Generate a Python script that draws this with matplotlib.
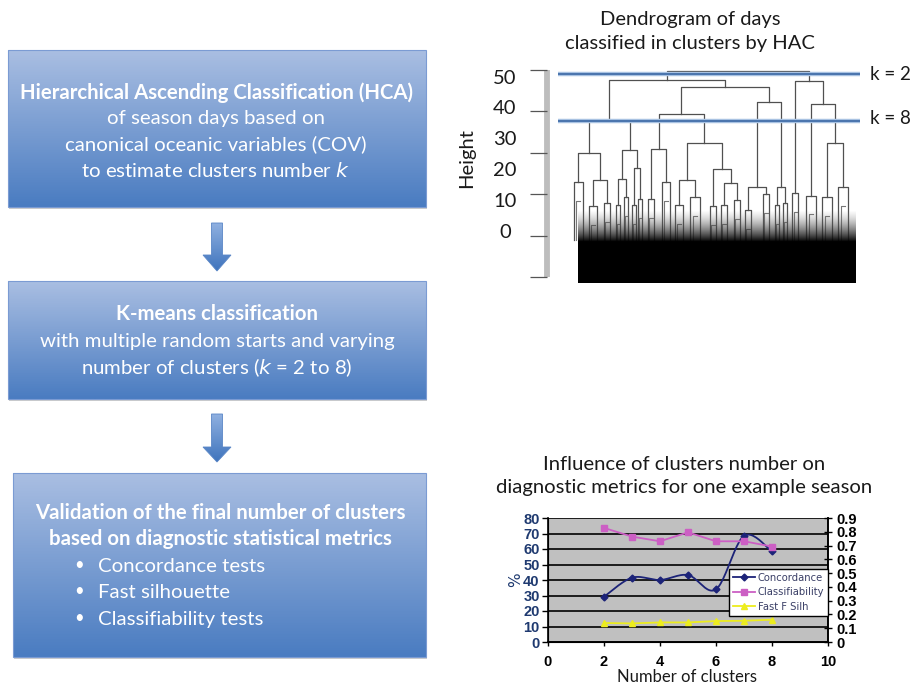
import numpy as np
import matplotlib.pyplot as plt
from matplotlib.patches import Rectangle, Polygon

W, H = 914, 689
FONT = "Lato"

# ---- flowchart text ----
box1_lines = ["Hierarchical Ascending Classification (HCA)",
              "of season days based on",
              "canonical oceanic variables (COV)",
              "to estimate clusters number $\\it{k}$"]
box2_lines = ["K-means classification",
              "with multiple random starts and varying",
              "number of clusters ($\\it{k}$ = 2 to 8)"]
box3_lines = ["Validation of the final number of clusters",
              "based on diagnostic statistical metrics"]
box3_bullets = ["Concordance tests", "Fast silhouette", "Classifiability tests"]

# ---- dendrogram (leaf order position in days, stub heights, merges) ----
leaf_pos = [2, 17, 31, 42, 50, 58, 64, 75, 90, 103, 119, 137, 148, 161,
            172, 190, 201, 209, 219, 235, 251, 267]
leaf_height = [22.9, 17.1, 17.9, 17.4, 19.3, 17.4, 18.8, 18.8, 22.9, 17.4, 19.3,
               17.1, 17.4, 18.6, 16.2, 20.0, 17.4, 17.9, 20.3, 19.6, 19.3, 21.7]
merge_left = [1, 0, 3, 5, 24, 23, 7, 9, 12, 11, 29, 28, 14, 16, 34, 33, 27, 20, 19, 18, 38]
merge_right = [2, 22, 4, 6, 25, 26, 8, 10, 13, 30, 31, 32, 15, 17, 35, 36, 37, 21, 39, 40, 41]
merge_height = [23.4, 30.0, 23.7, 26.3, 30.7, 37.7, 30.9, 23.4, 22.7, 26.1, 32.4,
                39.4, 21.7, 21.7, 42.3, 45.9, 47.6, 32.4, 41.8, 47.3, 49.8]
n_days = 280
cut_k2 = 49.0
cut_k8 = 37.7
height_ticks = [0, 10, 20, 30, 40, 50]
height_labels = ["50", "40", "30", "20", "10", "0"]

# ---- diagnostic metrics ----
n_clusters = [2, 3, 4, 5, 6, 7, 8]
concordance = [29.2, 41.5, 40.0, 43.2, 34.0, 68.5, 58.4]
classifiability = [0.828, 0.765, 0.731, 0.796, 0.731, 0.731, 0.693]
fast_silh = [0.138, 0.135, 0.142, 0.142, 0.152, 0.154, 0.162]


def px_axes(fig, x0, y0, x1, y1):
    return fig.add_axes([x0 / W, 1 - y1 / H, (x1 - x0) / W, (y1 - y0) / H])


def catmull_rom(xs, ys, steps=24):
    pts = np.column_stack([xs, ys]).astype(float)
    p = np.vstack([pts[0], pts, pts[-1]])
    t = np.linspace(0, 1, steps)[:, None]
    segs = []
    for i in range(1, len(p) - 2):
        p0, p1, p2, p3 = p[i - 1], p[i], p[i + 1], p[i + 2]
        segs.append(0.5 * (2 * p1 + (-p0 + p2) * t
                           + (2 * p0 - 5 * p1 + 4 * p2 - p3) * t ** 2
                           + (-p0 + 3 * p1 - 3 * p2 + p3) * t ** 3))
    seg = np.vstack(segs)
    return seg[:, 0], seg[:, 1]


def gradient(top, bottom, n=64):
    top = np.array(plt.matplotlib.colors.to_rgb(top))
    bottom = np.array(plt.matplotlib.colors.to_rgb(bottom))
    f = np.linspace(0, 1, n)[:, None]
    return (top + (bottom - top) * f)[:, None, :]


fig = plt.figure(figsize=(W / 100, H / 100), dpi=100)
bg = fig.add_axes([0, 0, 1, 1])
bg.set_axis_off()


def draw_box(x0, y0, x1, y1):
    bg.add_patch(Rectangle((x0 + 1, y0 + 2), x1 - x0, y1 - y0,
                           facecolor="#9a9a9a", alpha=0.5, lw=0, zorder=1))
    bg.imshow(gradient("#a9bee2", "#4a7cc1"), extent=(x0, x1, y1, y0),
              aspect="auto", origin="upper", zorder=2)
    bg.add_patch(Rectangle((x0, y0), x1 - x0, y1 - y0, fill=False,
                           edgecolor="#7b9bd3", lw=0.8, zorder=3))


def draw_arrow(cx, y_top, y_head, y_tip):
    pts = [(cx - 5.5, y_top), (cx + 5.5, y_top), (cx + 5.5, y_head),
           (cx + 14, y_head), (cx, y_tip), (cx - 14, y_head), (cx - 5.5, y_head)]
    poly = Polygon(pts, closed=True, facecolor="none", edgecolor="#5a86c6",
                   lw=0.6, zorder=3)
    bg.add_patch(poly)
    im = bg.imshow(gradient("#8fb0e0", "#3f74bd"), extent=(cx - 14, cx + 14, y_tip, y_top),
                   aspect="auto", origin="upper", zorder=2)
    im.set_clip_path(poly)


draw_box(8, 50, 426, 207)
draw_box(8, 281, 426, 399)
draw_box(13, 473, 426, 657)
draw_arrow(217, 223, 255, 271)
draw_arrow(217, 414, 447, 462)

txt = dict(color="white", family=FONT, fontsize=14.7, ha="center", va="center", zorder=5)
for i, line in enumerate(box1_lines):
    bg.text(216, 93 + i * 25.7, line, fontweight="bold" if i == 0 else "normal", **txt)
for i, line in enumerate(box2_lines):
    bg.text(217, 314 + i * 27, line, fontweight="bold" if i == 0 else "normal", **txt)
for i, line in enumerate(box3_lines):
    bg.text(220, 513 + i * 26, line, fontweight="bold", **txt)
for i, line in enumerate(box3_bullets):
    bg.text(79, 565 + i * 26.5, "\u2022", **{**txt, "fontsize": 12})
    bg.text(98, 566 + i * 26.5, line, **{**txt, "ha": "left"})

# dendrogram headings and axis labels
dark = "#1a1a1a"
bg.text(690, 20, "Dendrogram of days", family=FONT, fontsize=14.5, color=dark,
        ha="center", va="center")
bg.text(690, 43, "classified in clusters by HAC", family=FONT, fontsize=14.5,
        color=dark, ha="center", va="center")
for i, lab in enumerate(height_labels):
    bg.text(505, 78 + i * 30.8, lab, family=FONT, fontsize=14.5, color=dark,
            ha="center", va="center")
bg.text(467, 158, "Height", family=FONT, fontsize=14.5, color=dark, rotation=90,
        ha="center", va="center")
bg.text(870, 74, "k = 2", family=FONT, fontsize=13.5, color=dark, ha="left", va="center")
bg.text(870, 118, "k = 8", family=FONT, fontsize=13.5, color=dark, ha="left", va="center")

# metrics chart headings
bg.text(684, 465, "Influence of clusters number on", family=FONT, fontsize=14.6,
        color=dark, ha="center", va="center")
bg.text(684, 487, "diagnostic metrics for one example season", family=FONT,
        fontsize=14.6, color=dark, ha="center", va="center")
bg.text(687, 677, "Number of clusters", family=FONT, fontsize=12, color=dark,
        ha="center", va="center")
bg.set_xlim(0, W)
bg.set_ylim(H, 0)

# ---- dendrogram ----
ax = px_axes(fig, 525, 60, 870, 290)
ax.set_xlim(-51, 294)
ax.set_ylim(-3.14, 52.42)
ax.set_axis_off()
ax.patch.set_visible(False)

ax.vlines(-29, 0, 50, color="#bdbdbd", lw=4.2)
ax.hlines(height_ticks, -46, -29, color="#555555", lw=0.9)

x_node = list(leaf_pos)
h_node = list(leaf_height)
lc = "#505050"
for l, r, h in zip(merge_left, merge_right, merge_height):
    xl, xr = x_node[l], x_node[r]
    ax.plot([xl, xl, xr, xr], [h_node[l], h, h, h_node[r]], color=lc, lw=0.9)
    x_node.append((xl + xr) / 2)
    h_node.append(h)

# stub caps on each leaf group
lp = np.array(leaf_pos, dtype=float)
gaps = np.diff(lp)
for i, (x, h) in enumerate(zip(leaf_pos, leaf_height)):
    left_gap = gaps[i - 1] if i > 0 else gaps[0]
    right_gap = gaps[i] if i < len(gaps) else gaps[-1]
    w = 0.3 * min(left_gap, right_gap)
    ax.plot([x - w, x - w, x + w, x + w], [9, h, h, 9], color=lc, lw=0.9)
    ax.plot([x - w * 0.5, x - w * 0.5, x + w * 0.5], [9, h - 4.5, h - 4.5],
            color="#777777", lw=0.8)

# dense lower part of the tree
fuzz = np.zeros((80, 1, 4))
hh = np.linspace(16, -1.4, 80)
alpha = np.clip((16 - hh) / 7.5, 0, 1)
shade = np.clip((hh - 8.5) / 7.5, 0, 1) * 0.55
fuzz[:, 0, 0] = shade
fuzz[:, 0, 1] = shade
fuzz[:, 0, 2] = shade
fuzz[:, 0, 3] = alpha
ax.imshow(fuzz, extent=(2, n_days, -1.4, 16), aspect="auto", origin="upper",
          interpolation="bilinear", zorder=3)
ax.set_xlim(-51, 294)
ax.set_ylim(-3.14, 52.42)

for cut in (cut_k2, cut_k8):
    ax.hlines(cut, -18, 284, color="#a8c2e2", lw=3.2, zorder=4)
    ax.hlines(cut, -18, 284, color="#4a74ad", lw=1.4, zorder=5)

# ---- diagnostic metrics chart ----
navy = "#1f3a70"
cx = px_axes(fig, 548, 518, 828, 642)
cx.set_facecolor("#c0c0c0")
cx.set_xlim(0, 10)
cx.set_ylim(0, 80)
cx.set_xticks(range(0, 11, 2))
cx.set_yticks(range(0, 81, 10))
cx.yaxis.grid(True, color="black", lw=1.2)
cx.set_axisbelow(True)
for side in ("left", "bottom", "right"):
    cx.spines[side].set_color("black")
    cx.spines[side].set_linewidth(1.2)
cx.spines["top"].set_visible(False)
cx.tick_params(axis="y", direction="out", length=4, width=1, pad=2,
               labelcolor=navy, labelsize=10.5)
cx.tick_params(axis="x", direction="out", length=3, width=1, pad=6,
               labelcolor="black", labelsize=10.5)
for lab in cx.get_xticklabels() + cx.get_yticklabels():
    lab.set_fontweight("bold")
    lab.set_family("Liberation Sans")
cx.set_ylabel("%", color=navy, fontsize=11, labelpad=0)

sx, sy = catmull_rom(n_clusters, concordance)
cx.plot(sx, sy, color="#1c2378", lw=1.3, zorder=3)
cx.plot(n_clusters, concordance, ls="none", marker="D", ms=3.5, color="#1c2378", zorder=4)
h_conc, = cx.plot([], [], color="#1c2378", lw=1.3, marker="D", ms=3.5)

cx2 = cx.twinx()
cx2.set_ylim(0, 0.9)
cx2.set_yticks(np.arange(0, 0.91, 0.1))
cx2.set_yticklabels(["0"] + [f"{v:.1f}" for v in np.arange(0.1, 0.91, 0.1)])
cx2.tick_params(axis="y", direction="inout", length=6, width=1, pad=3,
                labelcolor="black", labelsize=10.5)
for lab in cx2.get_yticklabels():
    lab.set_fontweight("bold")
    lab.set_family("Liberation Sans")
cx2.spines["top"].set_visible(False)
cx2.spines["right"].set_linewidth(1.2)
h_cls, = cx2.plot(n_clusters, classifiability, color="#cc5fc4", lw=1.3, marker="s",
                  ms=4.5, zorder=3)
h_sil, = cx2.plot(n_clusters, fast_silh, color="#eded1e", lw=1.3, marker="^",
                  ms=4.5, zorder=3)

leg = cx2.legend([h_conc, h_cls, h_sil], ["Concordance", "Classifiability", "Fast F Silh"],
                 loc="upper right", bbox_to_anchor=(1.0, 0.59), fontsize=7.2,
                 frameon=True, fancybox=False, framealpha=1, edgecolor="black",
                 handlelength=2.2, handletextpad=0.3, borderpad=0.4,
                 labelspacing=0.45, borderaxespad=0)
leg.get_frame().set_linewidth(1.0)
for t in leg.get_texts():
    t.set_color("#3a3f66")

fig.savefig("out.png", dpi=100, facecolor="white")
